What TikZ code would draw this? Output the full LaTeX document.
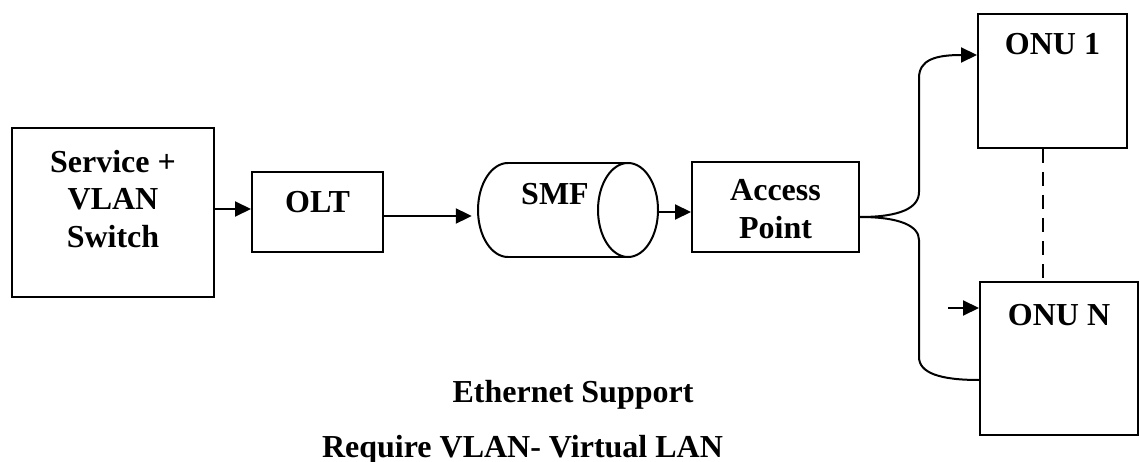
\documentclass[tikz,border=0pt]{standalone}
\usepackage{fontspec}
\setmainfont{Liberation Serif}
\usetikzlibrary{arrows.meta}
\tikzset{
  caja/.style={draw, line width=2pt, inner sep=0pt},
  txt/.style={font=\bfseries\fontsize{32}{37.5}\selectfont, inner sep=0pt, align=center},
  linea/.style={line width=2pt},
  flecha/.style={line width=2pt, -{Triangle[length=16pt,width=15pt]}},
}
\begin{document}
\begin{tikzpicture}[x=1pt, y=-1pt]

				\useasboundingbox (0,0) rectangle (1139,462);

				% Bloques
				\node[caja, minimum width=202pt, minimum height=169pt] (sw) at (113,212.5) {};
				\node[txt] (swtxt) at (113,199) {Service +\\VLAN\\Switch};

				\node[caja, minimum width=131pt, minimum height=80pt] (olt) at (317.5,212) {};
				\node[txt, anchor=base] (olttxt) at (317.5,213) {OLT};

				\node[caja, minimum width=167pt, minimum height=90pt] (ap) at (775.5,207) {};
				\node[txt] (aptxt) at (775.5,209) {Access\\Point};

				\node[caja, minimum width=149pt, minimum height=134pt] (onu1) at (1052.5,81) {};
				\node[txt, anchor=base] (onu1txt) at (1052.5,55) {ONU 1};

				\node[caja, minimum width=158pt, minimum height=153pt] (onun) at (1059,358.5) {};
				\node[txt, anchor=base] (onuntxt) at (1059,325) {ONU N};

				% Fibra
				\node[inner sep=0pt, minimum width=180pt, minimum height=94pt] (smf) at (568,210) {};
				\draw[linea] (508,163) -- (628,163);
				\draw[linea] (508,257) -- (628,257);
				\draw[linea] (508,163) arc[start angle=-90, end angle=-270, x radius=30, y radius=47];
				\draw[linea] (628,210) ellipse[x radius=30, y radius=47];
				\node[txt, anchor=base] (smftxt) at (555,205) {SMF};

				% Flechas
				\draw[flecha] (sw.east |- 0,209) -- (olt.west |- 0,209);
				\draw[flecha, shorten >=6pt] (olt.east |- 0,216) -- (smf.west |- 0,216);
				\draw[flecha] (smf.east |- 0,212) -- (ap.west |- 0,212);

				\coordinate (fork) at (ap.east |- 0,217);
				\draw[flecha] (fork) .. controls (900,217) and (919,208) .. (919,192) -- (919,78)
					.. controls (919,60) and (935,55) .. (onu1.west |- 0,55);
				\draw[linea] (fork) .. controls (900,217) and (919,226) .. (919,240) -- (919,357)
					.. controls (919,373) and (940,380) .. (onun.west |- 0,380);

				\coordinate (inN) at (948,308);
				\draw[flecha] (inN) -- (onun.west |- inN);

				\draw[linea, dash pattern=on 14pt off 9pt] (onu1.south -| 1043,0) -- (onun.north -| 1043,0);

				% Notas
				\node[txt, anchor=base] (eth) at (573,402) {Ethernet Support};
				\node[txt, anchor=base] (vlan) at (522.5,457) {Require VLAN- Virtual LAN};

			\end{tikzpicture}
\end{document}
